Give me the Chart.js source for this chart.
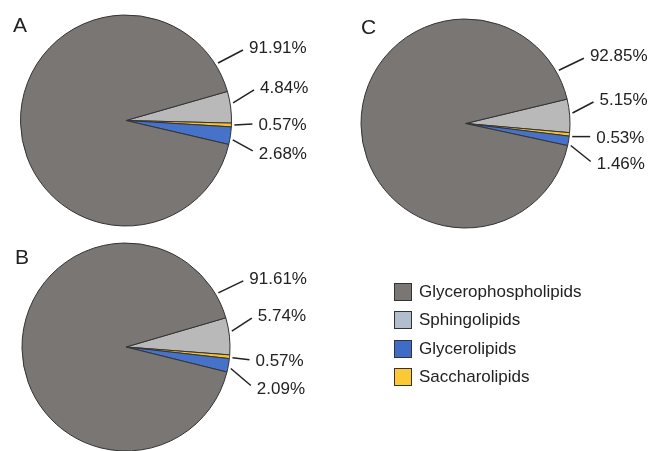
<!DOCTYPE html>
<html>
<head>
<meta charset="utf-8">
<script src="https://cdn.jsdelivr.net/npm/chart.js@4"></script>
<style>
  html, body { margin: 0; padding: 0; background: #fff; }
  #wrap { position: relative; width: 651px; height: 451px; overflow: hidden;
          font-family: "Liberation Sans", Arial, sans-serif; color: #222; }
  #wrap canvas { position: absolute; left: 0; top: 0; }
  .tag { position: absolute; font-size: 21px; line-height: 1; }
  #legend { position: absolute; left: 394px; top: 278px; }
  .row { display: flex; align-items: center; height: 28.3px; font-size: 17px; }
  .box { width: 16px; height: 16px; border: 1.5px solid #333; margin-right: 7px; box-sizing: content-box; }
</style>
</head>
<body>
<div id="wrap">
  <canvas id="pieA" width="651" height="451"></canvas>
  <canvas id="pieB" width="651" height="451"></canvas>
  <canvas id="pieC" width="651" height="451"></canvas>
  <div class="tag" style="left:13px;top:14px">A</div>
  <div class="tag" style="left:15px;top:246px">B</div>
  <div class="tag" style="left:361px;top:16px">C</div>
  <div id="legend"></div>
</div>
<script>
document.addEventListener("DOMContentLoaded", () => {
  const categories = ["Glycerophospholipids", "Sphingolipids", "Glycerolipids", "Saccharolipids"];
  const sliceColors = ["#7a7674", "#b9b9b9", "#4672c9", "#f7c22e"];
  const legendColors = ["#7a7674", "#b2bdcd", "#3f6cc9", "#fdc835"];

  const valuesA = [91.91, 4.84, 2.68, 0.57];
  const valuesB = [91.61, 5.74, 2.09, 0.57];
  const valuesC = [92.85, 5.15, 1.46, 0.53];

  // clockwise order of the slices, starting just above 3 o'clock
  const drawOrder = [1, 3, 2, 0];

  const W = 651, H = 451;

  // leader line: [rim angle in degrees, dx, dy], listed in category order
  const pies = [
    { id: "pieA", values: valuesA, cx: 126, cy: 120.5, r: 105.5, rotation: 74,
      leaders: [[-32, 25, -13], [-9.3, 21, -13], [10.3, 20, 11], [2.4, 18, -1]] },
    { id: "pieB", values: valuesB, cx: 126, cy: 347, r: 104, rotation: 73.7,
      leaders: [[-30.4, 25, -12], [-8.5, 20, -13], [11.6, 20, 17], [5.8, 17, 2]] },
    { id: "pieC", values: valuesC, cx: 465.5, cy: 123.5, r: 104.5, rotation: 76.5,
      leaders: [[-29.7, 25, -12], [-5.6, 21, -11], [11.8, 20, 16], [7, 18, 0]] },
  ];

  const leaderLabels = {
    id: "leaderLabels",
    afterDatasetsDraw(chart, args, opts) {
      const ctx = chart.ctx;
      const arc = chart.getDatasetMeta(0).data[0];
      const cx = arc.x, cy = arc.y, r = arc.outerRadius;
      ctx.save();
      ctx.strokeStyle = "#222";
      ctx.fillStyle = "#222";
      ctx.lineWidth = 1.5;
      ctx.font = '17px "Liberation Sans", Arial, sans-serif';
      ctx.textBaseline = "alphabetic";
      opts.leaders.forEach(([deg, dx, dy], i) => {
        const a = deg * Math.PI / 180;
        const x0 = cx + (r + 3) * Math.cos(a);
        const y0 = cy + (r + 3) * Math.sin(a);
        const x1 = x0 + dx, y1 = y0 + dy;
        ctx.beginPath();
        ctx.moveTo(x0, y0);
        ctx.lineTo(x1, y1);
        ctx.stroke();
        const ty = dy < -2 ? -3 : (dy > 2 ? 2 : 0);
        ctx.fillText(opts.values[i].toFixed(2) + "%", x1 + 6, y1 + ty + 6);
      });
      ctx.restore();
    }
  };

  pies.forEach(p => {
    const padding = {
      left: Math.max(0, 2 * p.cx - W),
      right: Math.max(0, W - 2 * p.cx),
      top: Math.max(0, 2 * p.cy - H),
      bottom: Math.max(0, H - 2 * p.cy),
    };
    new Chart(document.getElementById(p.id), {
      type: "pie",
      data: {
        labels: drawOrder.map(i => categories[i]),
        datasets: [{
          data: drawOrder.map(i => p.values[i]),
          backgroundColor: drawOrder.map(i => sliceColors[i]),
          borderColor: "#333",
          borderWidth: 1,
        }],
      },
      options: {
        responsive: false,
        animation: false,
        devicePixelRatio: 1,
        events: [],
        rotation: p.rotation,
        radius: p.r,
        layout: { padding },
        plugins: {
          legend: { display: false },
          tooltip: { enabled: false },
          leaderLabels: { leaders: p.leaders, values: p.values },
        },
      },
      plugins: [leaderLabels],
    });
  });

  const legend = document.getElementById("legend");
  categories.forEach((name, i) => {
    const row = document.createElement("div");
    row.className = "row";
    row.innerHTML = `<div class="box" style="background:${legendColors[i]}"></div><span>${name}</span>`;
    legend.appendChild(row);
  });
});
</script>
</body>
</html>
